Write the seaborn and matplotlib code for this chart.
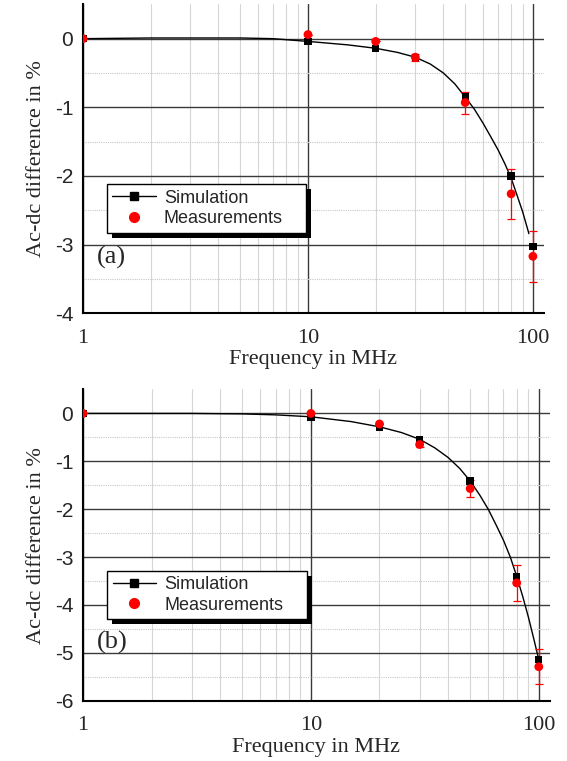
import matplotlib
matplotlib.use("Agg")
import matplotlib.pyplot as plt
import seaborn as sns
from matplotlib.lines import Line2D
from matplotlib.patches import Rectangle
from matplotlib.ticker import FixedLocator, NullFormatter

# Points at the measured frequencies (MHz)
freq = [1, 10, 20, 30, 50, 80, 100]

# Panel (a)
sim_a = [0.0, -0.04, -0.14, -0.27, -0.85, -2.00, -3.03]
meas_a = [0.0, 0.06, -0.04, -0.27, -0.93, -2.26, -3.17]
err_a = [0.0, 0.0, 0.0, 0.05, 0.16, 0.36, 0.37]

# Panel (b)
sim_b = [0.0, -0.08, -0.28, -0.54, -1.41, -3.40, -5.14]
meas_b = [0.0, 0.0, -0.22, -0.65, -1.57, -3.54, -5.29]
err_b = [0.0, 0.0, 0.0, 0.05, 0.17, 0.37, 0.36]

# Simulation curves
curve_f_a = [1, 2, 3, 5, 7, 10, 15, 20, 25, 30, 35, 40, 45, 50, 55, 60, 65, 70, 75, 80, 85, 90, 96]
curve_a = [0.0, 0.01, 0.01, 0.01, 0.0, -0.04, -0.09, -0.14, -0.20, -0.27, -0.37, -0.50, -0.66,
           -0.85, -1.03, -1.23, -1.43, -1.62, -1.82, -2.03, -2.28, -2.52, -2.84]
curve_f_b = [1, 2, 3, 5, 7, 10, 15, 20, 25, 30, 35, 40, 45, 50, 55, 60, 65, 70, 75, 80, 85, 90, 95, 100]
curve_b = [0.0, 0.0, 0.0, -0.01, -0.03, -0.07, -0.17, -0.28, -0.40, -0.54, -0.72, -0.92, -1.15,
           -1.41, -1.70, -2.00, -2.33, -2.65, -3.00, -3.40, -3.82, -4.25, -4.70, -5.14]

sns.set_style("white")
plt.rcParams['font.family'] = ['Liberation Sans', 'DejaVu Sans']

fig = plt.figure(figsize=(5.67, 7.61), dpi=100)
ax_a = fig.add_axes([0.1464, 0.5883, 0.813, 0.406])
ax_b = fig.add_axes([0.1464, 0.0792, 0.8236, 0.409])

serif = 'Liberation Serif'


def draw_panel(ax, sim, meas, err, cf, cv, ymin, xmax, label, label_y):
    sns.lineplot(x=cf, y=cv, ax=ax, color='black', lw=1.0, zorder=3, legend=False)
    ax.errorbar(freq, meas, yerr=err, fmt='none', ecolor='red', elinewidth=0.9,
                capsize=2.6, capthick=0.9, zorder=4)
    sns.scatterplot(x=freq, y=sim, ax=ax, marker='s', s=28, color='black',
                    edgecolor='none', zorder=5, legend=False)
    sns.scatterplot(x=freq, y=meas, ax=ax, marker='o', s=40, color='red',
                    edgecolor='none', zorder=6, legend=False)

    ax.set_xscale('log')
    ax.set_xlim(1, xmax)
    ax.set_ylim(ymin, 0.5)

    ax.xaxis.set_major_locator(FixedLocator([1, 10, 100]))
    ax.xaxis.set_minor_locator(FixedLocator([2, 3, 4, 5, 6, 7, 8, 9, 20, 30, 40, 50, 60, 70, 80, 90]))
    ax.xaxis.set_minor_formatter(NullFormatter())
    ax.set_xticklabels(['1', '10', '100'], family=serif, fontsize=16)
    ax.yaxis.set_major_locator(FixedLocator(list(range(ymin, 1))))
    ax.yaxis.set_minor_locator(FixedLocator([v + 0.5 for v in range(ymin, 0)]))
    ax.set_yticklabels([str(v) for v in range(ymin, 1)], fontsize=15)

    ax.grid(which='major', color='#3a3a3a', lw=1.0)
    ax.grid(which='minor', axis='x', color='#d6d6d6', lw=0.8)
    ax.grid(which='minor', axis='y', color='#c8c8c8', lw=0.8, ls=(0, (1, 1)))
    ax.set_axisbelow(True)

    for s in ['top', 'right']:
        ax.spines[s].set_visible(False)
    for s in ['left', 'bottom']:
        ax.spines[s].set_color('black')
        ax.spines[s].set_linewidth(1.5)

    ax.tick_params(which='major', direction='out', length=4, width=1.3, color='black')
    ax.tick_params(which='minor', direction='in', length=4, width=1.2, color='black')
    ax.tick_params(axis='y', which='major', pad=3)
    ax.tick_params(axis='x', which='major', pad=7)

    ax.set_xlabel('Frequency in MHz', family=serif, fontsize=16, labelpad=2)
    ax.set_ylabel('Ac-dc difference in %', family=serif, fontsize=16, labelpad=6)

    ax.text(1.15, label_y, label, family=serif, fontsize=19, va='center', ha='left')

    handles = [
        Line2D([0], [0], color='black', lw=1.0, marker='s', markersize=5.5),
        Line2D([0], [0], color='none', marker='o', markerfacecolor='red',
               markeredgecolor='red', markersize=7),
    ]
    leg = ax.legend(handles, ['Simulation', 'Measurements'], loc='upper left',
                    bbox_to_anchor=(0.052, 0.418), fontsize=13, frameon=False,
                    handlelength=2.4, handletextpad=0.45, borderpad=0.3,
                    labelspacing=0.2, borderaxespad=0)
    leg.set_zorder(12)
    return leg


leg_a = draw_panel(ax_a, sim_a, meas_a, err_a, curve_f_a, curve_a, -4, 112, '(a)', -3.19)
leg_b = draw_panel(ax_b, sim_b, meas_b, err_b, curve_f_b, curve_b, -6, 112, '(b)', -4.79)

# white legend box with a black drop shadow
fig.canvas.draw()
for ax, leg in [(ax_a, leg_a), (ax_b, leg_b)]:
    bb = leg.get_window_extent()
    x0, y0, x1, y1 = bb.x0, bb.y0, bb.x1 + 18, bb.y1
    inv = ax.transAxes.inverted()
    (ax0, ay0), (ax1, ay1) = inv.transform([(x0, y0), (x1, y1)])
    (sx0, sy0), (sx1, sy1) = inv.transform([(x0 + 5, y0 - 5), (x1 + 5, y1 - 5)])
    ax.add_patch(Rectangle((sx0, sy0), sx1 - sx0, sy1 - sy0, transform=ax.transAxes,
                           facecolor='black', edgecolor='none', zorder=10, clip_on=False))
    ax.add_patch(Rectangle((ax0, ay0), ax1 - ax0, ay1 - ay0, transform=ax.transAxes,
                           facecolor='white', edgecolor='black', lw=1.0, zorder=11,
                           clip_on=False))

fig.savefig('out.png', dpi=100)
